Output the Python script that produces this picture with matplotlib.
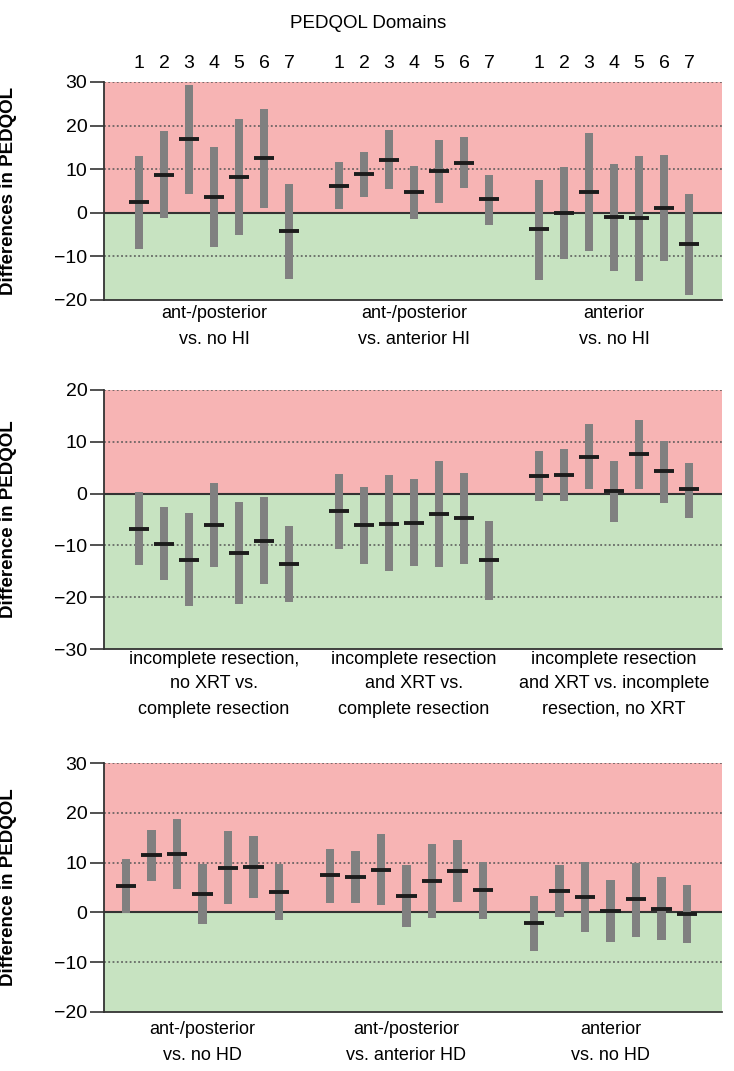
import numpy as np
import matplotlib
matplotlib.use("Agg")
import matplotlib.pyplot as plt

plt.rcParams['font.family'] = ['Liberation Sans Narrow', 'Liberation Sans', 'DejaVu Sans']

domains = [1, 2, 3, 4, 5, 6, 7]

# panel 1: hydrocephalus infiltration (HI)
hi_groups = ["ant-/posterior\nvs. no HI", "ant-/posterior\nvs. anterior HI", "anterior\nvs. no HI"]
hi_mean = [2.4, 8.7, 16.9, 3.7, 8.2, 12.6, -4.2,
           6.2, 8.9, 12.2, 4.7, 9.5, 11.5, 3.1,
           -3.8, 0.0, 4.7, -1.0, -1.3, 1.1, -7.2]
hi_low = [-8.3, -1.1, 4.4, -7.9, -5.0, 1.2, -15.1,
          0.8, 3.7, 5.4, -1.4, 2.3, 5.6, -2.8,
          -15.3, -10.6, -8.8, -13.4, -15.7, -11.1, -18.9]
hi_high = [13.0, 18.7, 29.4, 15.1, 21.6, 23.9, 6.7,
           11.7, 14.0, 18.9, 10.7, 16.8, 17.4, 8.7,
           7.6, 10.4, 18.2, 11.2, 13.1, 13.3, 4.4]

# panel 2: resection / radiotherapy
res_groups = ["incomplete resection,\nno XRT vs.\ncomplete resection",
              "incomplete resection\nand XRT vs.\ncomplete resection",
              "incomplete resection\nand XRT vs. incomplete\nresection, no XRT"]
res_mean = [-6.8, -9.7, -12.8, -6.1, -11.5, -9.1, -13.5,
            -3.4, -6.1, -5.8, -5.7, -3.9, -4.8, -12.9,
            3.4, 3.6, 7.1, 0.5, 7.7, 4.3, 0.8]
res_low = [-13.7, -16.7, -21.7, -14.2, -21.3, -17.4, -20.9,
           -10.7, -13.5, -15.0, -14.0, -14.1, -13.5, -20.5,
           -1.5, -1.5, 0.8, -5.5, 0.8, -1.8, -4.7]
res_high = [0.4, -2.5, -3.7, 2.1, -1.7, -0.6, -6.2,
            3.8, 1.3, 3.5, 2.8, 6.3, 3.9, -5.2,
            8.2, 8.6, 13.4, 6.3, 14.3, 10.2, 6.0]

# panel 3: hypothalamic damage (HD)
hd_groups = ["ant-/posterior\nvs. no HD", "ant-/posterior\nvs. anterior HD", "anterior\nvs. no HD"]
hd_mean = [5.3, 11.5, 11.7, 3.7, 8.9, 9.1, 4.1,
           7.5, 7.1, 8.6, 3.3, 6.3, 8.3, 4.5,
           -2.2, 4.3, 3.1, 0.3, 2.7, 0.7, -0.3]
hd_low = [-0.1, 6.3, 4.7, -2.4, 1.6, 2.9, -1.6,
          1.9, 1.8, 1.5, -2.9, -1.1, 2.0, -1.3,
          -7.7, -0.9, -3.9, -5.9, -4.9, -5.5, -6.1]
hd_high = [10.8, 16.6, 18.7, 9.8, 16.3, 15.3, 9.8,
           12.8, 12.3, 15.7, 9.5, 13.7, 14.6, 10.2,
           3.3, 9.6, 10.1, 6.6, 10.0, 7.1, 5.5]

pink = '#f7b4b4'
green = '#c7e3c1'
bar_gray = '#808080'
mean_col = '#1c1c1c'
line_col = '#333333'

W, H = 734, 1071
fig = plt.figure(figsize=(W / 100, H / 100), dpi=100)


def px_axes(left, top, right, bottom):
    return fig.add_axes([left / W, 1 - bottom / H, (right - left) / W, (bottom - top) / H])


x = np.array([g * 8 + d for g in range(3) for d in domains])
centers = [4, 12, 20]

panels = [
    dict(box=(104, 82, 722, 300), ylim=(-20, 30), xlim=(-0.4, 24.32),
         mean=hi_mean, low=hi_low, high=hi_high, groups=hi_groups,
         ylabel='Differences in PEDQOL', label_y=[313, 340]),
    dict(box=(104, 390, 722, 649), ylim=(-30, 20), xlim=(-0.4, 24.32),
         mean=res_mean, low=res_low, high=res_high, groups=res_groups,
         ylabel='Difference in PEDQOL', label_y=[659, 684, 709]),
    dict(box=(104, 763, 722, 1012), ylim=(-20, 30), xlim=(0.14, 24.37),
         mean=hd_mean, low=hd_low, high=hd_high, groups=hd_groups,
         ylabel='Difference in PEDQOL', label_y=[1030, 1056]),
]

for i, p in enumerate(panels):
    left, top, right, bottom = p['box']
    ax = px_axes(left, top, right, bottom)
    y0, y1 = p['ylim']
    ax.set_xlim(*p['xlim'])
    ax.set_ylim(y0, y1)
    ax.axhspan(0, y1, color=pink, zorder=0, lw=0)
    ax.axhspan(y0, 0, color=green, zorder=0, lw=0)
    for yv in range(y0 + 10, y1 + 1, 10):
        if yv != 0:
            ax.axhline(yv, color='#555555', lw=1.1, ls=(0, (1.2, 1.6)), zorder=1)
    ax.axhline(0, color=line_col, lw=1.5, zorder=2)

    low = np.array(p['low'])
    high = np.array(p['high'])
    ax.bar(x, high - low, bottom=low, width=0.32, color=bar_gray, zorder=3)
    ax.hlines(p['mean'], x - 0.4, x + 0.4, color=mean_col, lw=2.8, zorder=4)

    for s in ['top', 'right']:
        ax.spines[s].set_visible(False)
    for s in ['left', 'bottom']:
        ax.spines[s].set_color(line_col)
        ax.spines[s].set_linewidth(1.3)
    ax.set_xticks([])
    ax.set_yticks(range(y0, y1 + 1, 10))
    ax.set_yticklabels([str(v).replace('-', '\u2212') for v in range(y0, y1 + 1, 10)])
    ax.tick_params(axis='y', length=10, width=1.2, color=line_col, labelsize=14, pad=2)
    ax.set_ylabel(p['ylabel'], fontsize=13.5, fontweight='bold')
    ax.yaxis.set_label_coords((17 - left) / (right - left), 0.5)

    # group labels below the panel
    for c, lab in zip(centers, p['groups']):
        lines = lab.split('\n')
        for ln, ypx in zip(lines, p['label_y']):
            ax.text(c, 1 - (ypx - top) / (bottom - top), ln, transform=ax.get_xaxis_transform(),
                    ha='center', va='center', fontsize=13)

    if i == 0:
        for xi, d in zip(x, domains * 3):
            ax.text(xi, 1 + (82 - 63) / (bottom - top), str(d), transform=ax.get_xaxis_transform(),
                    ha='center', va='center', fontsize=14)

fig.text(368 / W, 1 - 23 / H, 'PEDQOL Domains', ha='center', va='center', fontsize=13.5)

fig.savefig('out.png', dpi=100)
